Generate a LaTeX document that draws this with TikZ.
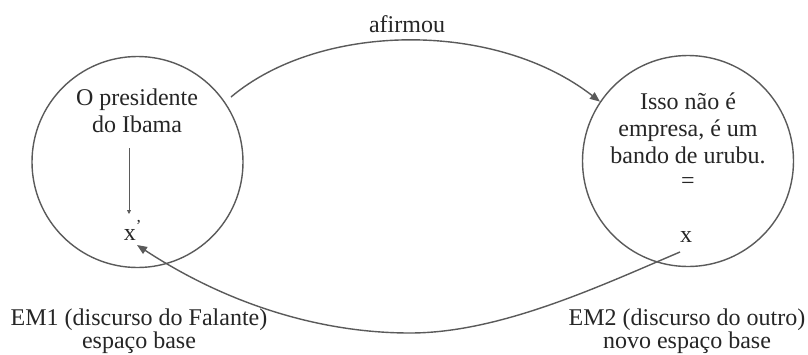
\documentclass[tikz,border=0pt]{standalone}
\usepackage{fontspec}
\setmainfont{Liberation Serif}
\usetikzlibrary{arrows.meta}
\definecolor{ln}{HTML}{5A5A5A}
\definecolor{tx}{HTML}{262626}
\begin{document}
\begin{tikzpicture}[x=1pt,y=-1pt,
  space/.style={circle,draw=ln,line width=1.4pt,minimum size=211pt,inner sep=0pt},
  lbl/.style={text=tx,align=center,font=\fontsize{24}{27}\selectfont,inner sep=0pt},
  caption/.style={text=tx,align=center,font=\fontsize{24}{23}\selectfont,inner sep=0pt},
  conn/.style={draw=ln,line width=1.4pt,-{Triangle[length=10pt,width=8pt]}},
  thin/.style={draw=ln,line width=0.8pt,-{Triangle[length=4pt,width=4pt]}}]
\useasboundingbox (0,0) rectangle (808,354);
\fill[white] (0,0) rectangle (808,354);
\node[space] (L) at (137.5,162) {};
\node[space] (R) at (688,161) {};
\node[lbl] (Ltxt) at (137,111) {O presidente\\do Ibama};
\node[lbl] (xp) at (133,230) {x\textsuperscript{'}};
\node[lbl] (Rtxt) at (688,128) {Isso não é\\empresa, é um\\bando de urubu.};
\node[lbl] (eq) at (688,183) {=};
\node[lbl] (x) at (686,237) {x};
\node[lbl] (af) at (407,24) {afirmou};
\node[caption] (em1) at (139,331) {EM1 (discurso do Falante)\\espaço base};
\node[caption] (em2) at (687,331) {EM2 (discurso do outro)\\novo espaço base};
\coordinate (a1) at (129,148);
\coordinate (a2) at (129,214);
\draw[thin] (a1) -- (a2);
\coordinate (t1) at (231,97);
\draw[conn] (t1) .. controls (320,22) and (495,20) .. (R.146);
\coordinate (b1) at (680,252);
\coordinate (bm) at (410,333);
\coordinate (b2) at (137,245);
\draw[conn] (b1) .. controls (600,286) and (500,333) .. (bm)
  .. controls (320,333) and (227,304) .. (b2);
\end{tikzpicture}
\end{document}
